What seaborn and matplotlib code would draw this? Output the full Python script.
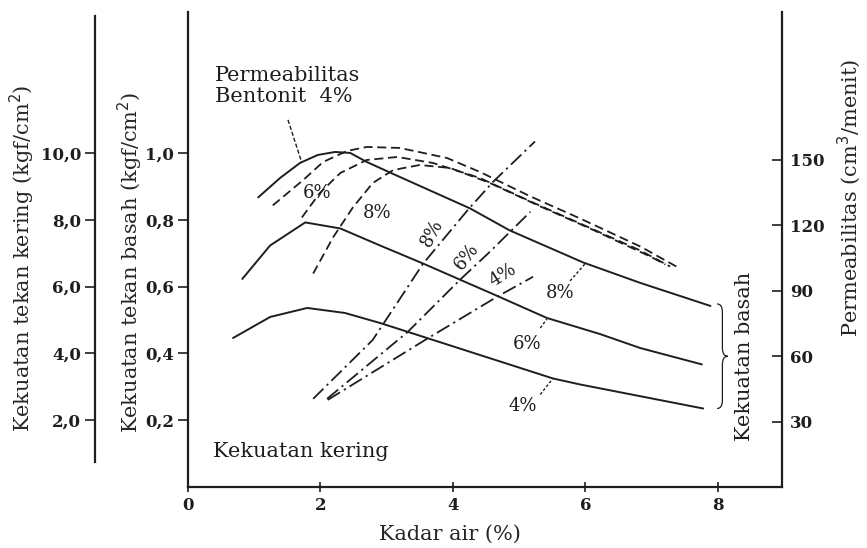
import numpy as np
import pandas as pd
import matplotlib
matplotlib.use("Agg")
import matplotlib.pyplot as plt
from matplotlib.path import Path
from matplotlib.patches import PathPatch
import seaborn as sns

sns.set_style("ticks")
plt.rcParams['font.family'] = ['DejaVu Serif']
plt.rcParams['text.color'] = '#1a1a1a'

# ---- data ----
# kekuatan tekan basah (kgf/cm2), garis penuh
basah_8_x = [1.06, 1.39, 1.69, 1.96, 2.22, 2.45, 2.70, 3.10, 4.26, 4.86, 5.97, 6.83, 7.89]
basah_8_y = [0.867, 0.925, 0.970, 0.994, 1.003, 1.000, 0.973, 0.937, 0.834, 0.768, 0.672, 0.611, 0.542]
basah_6_x = [0.82, 1.24, 1.77, 2.30, 2.90, 3.55, 4.15, 4.67, 5.42, 6.22, 6.83, 7.76]
basah_6_y = [0.623, 0.723, 0.792, 0.774, 0.723, 0.669, 0.617, 0.572, 0.506, 0.458, 0.416, 0.367]
basah_4_x = [0.68, 1.24, 1.80, 2.37, 2.90, 3.61, 5.51, 5.92, 7.78]
basah_4_y = [0.446, 0.509, 0.536, 0.521, 0.491, 0.446, 0.325, 0.307, 0.235]

# kekuatan tekan kering (kgf/cm2), garis putus-putus
kering_4_x = [1.28, 1.74, 2.04, 2.40, 2.70, 3.20, 3.91, 4.41, 5.17, 5.92, 6.83, 7.43]
kering_4_y = [8.43, 9.19, 9.73, 10.06, 10.18, 10.15, 9.85, 9.43, 8.70, 8.04, 7.20, 6.54]
kering_6_x = [1.72, 1.99, 2.30, 2.70, 3.16, 3.70, 4.41, 5.17, 5.92, 6.83, 7.28]
kering_6_y = [8.07, 8.80, 9.40, 9.79, 9.88, 9.70, 9.25, 8.55, 7.89, 7.08, 6.60]
kering_8_x = [1.89, 2.19, 2.49, 2.79, 3.10, 3.50, 3.96, 4.56, 5.32, 6.07, 6.98, 7.21]
kering_8_y = [6.39, 7.47, 8.37, 9.10, 9.49, 9.64, 9.55, 9.10, 8.40, 7.74, 6.90, 6.66]

# permeabilitas (cm3/menit), garis titik-strip
perm_8_x = [1.89, 2.79, 3.55, 4.23, 4.61, 5.24]
perm_8_y = [40.4, 67.4, 102.3, 127.1, 139.9, 158.3]
perm_6_x = [2.10, 3.32, 4.11, 4.56, 5.17]
perm_6_y = [40.4, 71.1, 95.0, 107.8, 126.1]
perm_4_x = [2.11, 3.61, 4.67, 5.21]
perm_4_y = [39.9, 67.9, 87.2, 96.3]

x_ticks = [0, 2, 4, 6, 8]
basah_ticks = [0.2, 0.4, 0.6, 0.8, 1.0]
basah_labels = ['0,2', '0,4', '0,6', '0,8', '1,0']
kering_ticks = [2, 4, 6, 8, 10]
kering_labels = ['2,0', '4,0', '6,0', '8,0', '10,0']
perm_ticks = [30, 60, 90, 120, 150]

INK = '#1e1e1e'
W, H = 867, 548

fig = plt.figure(figsize=(W / 100, H / 100), dpi=100)
L, R = 188 / W, 782 / W
B, T = 1 - 487 / H, 1 - 12 / H
ax = fig.add_axes([L, B, R - L, T - B])
ax.set_xlim(0, 8.97)
ax.set_ylim(0, 1.422)

ax_k = ax.twinx()          # skala kering untuk garis putus-putus
ax_k.set_ylim(0, 14.22)
ax_p = ax.twinx()          # skala permeabilitas
ax_p.set_ylim(0, 217.6)

solid = dict(color=INK, linewidth=1.4)
dash = dict(color=INK, linewidth=1.3, linestyle=(0, (5, 2.6)))
dashdot = dict(color=INK, linewidth=1.3, linestyle=(0, (8, 2.5, 1.2, 2.5)))

for xs, ys in [(basah_8_x, basah_8_y), (basah_6_x, basah_6_y), (basah_4_x, basah_4_y)]:
    sns.lineplot(x=xs, y=ys, ax=ax, sort=False, **solid)
for xs, ys in [(kering_4_x, kering_4_y), (kering_6_x, kering_6_y), (kering_8_x, kering_8_y)]:
    sns.lineplot(x=xs, y=ys, ax=ax_k, sort=False, **dash)
for xs, ys in [(perm_8_x, perm_8_y), (perm_6_x, perm_6_y), (perm_4_x, perm_4_y)]:
    sns.lineplot(x=xs, y=ys, ax=ax_p, sort=False, **dashdot)

# ---- spines & ticks ----
for a in (ax, ax_k, ax_p):
    for s in a.spines.values():
        s.set_visible(False)
for s in (ax.spines['left'], ax.spines['bottom'], ax_p.spines['right']):
    s.set_visible(True)
    s.set_linewidth(1.6)
    s.set_color(INK)

ax.set_xticks(x_ticks)
ax.set_xticklabels([str(v) for v in x_ticks], fontsize=12, fontweight='bold')
ax.tick_params(axis='x', direction='inout', length=7, width=1.2, pad=4, colors=INK)
ax.set_yticks(basah_ticks)
ax.set_yticklabels(basah_labels, fontsize=12, fontweight='bold')
ax.tick_params(axis='y', direction='out', length=7, width=1.2, pad=3, colors=INK)

ax_k.set_yticks([])
ax_p.set_yticks(perm_ticks)
ax_p.set_yticklabels([str(v) for v in perm_ticks], fontsize=12, fontweight='bold')
ax_p.tick_params(axis='y', direction='in', length=7, width=1.2, pad=6, colors=INK)

# sumbu kering terpisah di kiri
ax_dry = fig.add_axes([95 / W, B, 0.0005, T - B])
ax_dry.set_ylim(0, 14.22)
ax_dry.set_xticks([])
for s in ax_dry.spines.values():
    s.set_visible(False)
ax_dry.spines['left'].set_visible(True)
ax_dry.spines['left'].set_linewidth(1.6)
ax_dry.spines['left'].set_color(INK)
ax_dry.spines['left'].set_bounds(0.75, 14.1)
ax_dry.set_yticks(kering_ticks)
ax_dry.set_yticklabels(kering_labels, fontsize=12, fontweight='bold')
ax_dry.tick_params(axis='y', direction='out', length=7, width=1.2, pad=3, colors=INK)
ax_dry.patch.set_visible(False)

# ---- axis labels ----
ax_dry.set_ylabel('Kekuatan tekan kering (kgf/cm$^2$)', fontsize=15)
ax_dry.yaxis.set_label_coords(22 / W, 1 - 258 / H, transform=fig.transFigure)
ax.set_ylabel('Kekuatan tekan basah (kgf/cm$^2$)', fontsize=15)
ax.yaxis.set_label_coords(130 / W, 1 - 262 / H, transform=fig.transFigure)
ax_p.set_ylabel('Permeabilitas (cm$^3$/menit)', fontsize=15, rotation=90)
ax_p.yaxis.set_label_coords(849 / W, 1 - 198 / H, transform=fig.transFigure)
for lab in (ax_dry.yaxis.label, ax.yaxis.label, ax_p.yaxis.label):
    lab.set_verticalalignment('center')
    lab.set_horizontalalignment('center')
ax.set_xlabel('Kadar air (%)', fontsize=15)
ax.xaxis.set_label_coords(450 / W, 1 - 525 / H, transform=fig.transFigure)

# ---- annotations ----
txt = dict(fontsize=15, color=INK)
ax.text(0.38, 0.105, 'Kekuatan kering', va='center', ha='left', **txt)
ax.text(0.41, 1.20, 'Permeabilitas\nBentonit  4%', va='center', ha='left',
        linespacing=1.15, **txt)
ax.plot([1.51, 1.72], [1.099, 0.970], color=INK, lw=1.0, linestyle=(0, (3, 1.5)))

small = dict(fontsize=13, color=INK, ha='center', va='center')
ax.text(1.95, 0.88, '6%', **small)
ax.text(2.85, 0.82, '8%', **small)
ax.text(3.69, 0.76, '8%', rotation=62, **small)
ax.text(4.21, 0.69, '6%', rotation=52, **small)
ax.text(4.76, 0.635, '4%', rotation=32, **small)

leader = dict(color=INK, lw=1.0, linestyle=(0, (2, 1.5)))
ax.text(5.62, 0.58, '8%', **small)
ax.plot([5.77, 6.0], [0.617, 0.669], **leader)
ax.text(5.12, 0.428, '6%', **small)
ax.plot([5.32, 5.42], [0.476, 0.503], **leader)
ax.text(5.06, 0.241, '4%', **small)
ax.plot([5.32, 5.51], [0.277, 0.325], **leader)

# kurung kurawal "Kekuatan basah"
bx, bw, y0, y1 = 7.99, 0.16, 0.235, 0.548
ym, d = (y0 + y1) / 2, 0.025
verts = [(bx, y1), (bx + bw / 2, y1), (bx + bw / 2, y1 - d),
         (bx + bw / 2, ym + d),
         (bx + bw / 2, ym), (bx + bw, ym),
         (bx + bw / 2, ym), (bx + bw / 2, ym - d),
         (bx + bw / 2, y0 + d),
         (bx + bw / 2, y0), (bx, y0)]
codes = [Path.MOVETO, Path.CURVE3, Path.CURVE3, Path.LINETO,
         Path.CURVE3, Path.CURVE3, Path.CURVE3, Path.CURVE3,
         Path.LINETO, Path.CURVE3, Path.CURVE3]
ax.add_patch(PathPatch(Path(verts, codes), fill=False, edgecolor=INK, lw=0.9))
ax.text(8.41, 0.39, 'Kekuatan basah', rotation=90, ha='center', va='center', **txt)

fig.savefig('out.png', dpi=100)
